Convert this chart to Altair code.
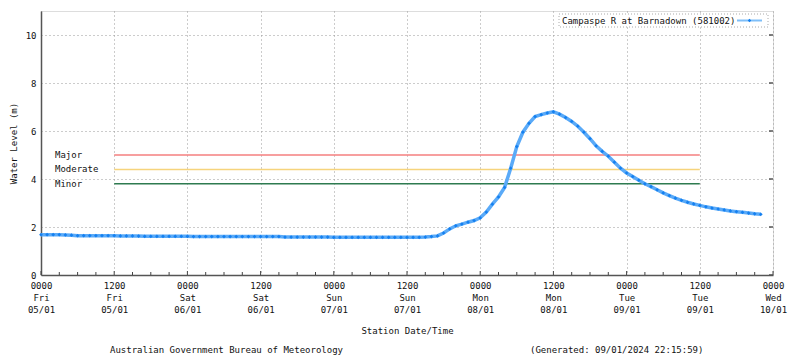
import altair as alt
import pandas as pd

# ---------------- data ----------------
start = pd.Timestamp("2024-01-05T00:00:00")
hours = list(range(0, 119))
level = [
    1.68, 1.68, 1.68, 1.68, 1.67, 1.66, 1.64, 1.64, 1.64, 1.64,   # 0-9
    1.64, 1.64, 1.64, 1.63, 1.63, 1.63, 1.62, 1.61, 1.61, 1.61,   # 10-19
    1.61, 1.61, 1.61, 1.61, 1.61, 1.60, 1.60, 1.60, 1.60, 1.60,   # 20-29
    1.60, 1.60, 1.60, 1.60, 1.60, 1.60, 1.60, 1.60, 1.60, 1.60,   # 30-39
    1.58, 1.58, 1.58, 1.58, 1.58, 1.58, 1.58, 1.58, 1.57, 1.57,   # 40-49
    1.57, 1.57, 1.57, 1.57, 1.57, 1.57, 1.57, 1.57, 1.57, 1.57,   # 50-59
    1.57, 1.57, 1.57, 1.58, 1.60, 1.63, 1.75, 1.92, 2.05, 2.12,   # 60-69
    2.20, 2.27, 2.38, 2.62, 2.95, 3.25, 3.65, 4.45, 5.35, 5.95,   # 70-79
    6.32, 6.60, 6.68, 6.75, 6.80, 6.70, 6.56, 6.40, 6.20, 5.95,   # 80-89
    5.68, 5.38, 5.15, 4.95, 4.70, 4.45, 4.25, 4.10, 3.95, 3.80,   # 90-99
    3.68, 3.55, 3.42, 3.31, 3.20, 3.11, 3.03, 2.96, 2.90, 2.84,   # 100-109
    2.79, 2.75, 2.71, 2.67, 2.64, 2.61, 2.58, 2.55, 2.53,         # 110-118
]

thr_names = ["Major", "Moderate", "Minor"]
thr_values = [5.0, 4.4, 3.8]
thr_colors = ["#f47f7f", "#f6d47c", "#2e7b50"]
thr_start_hour = 12
thr_end_hour = 108

x_tick_hours = list(range(0, 121, 12))
minor_tick_hours = list(range(0, 121, 3))
y_ticks = [0, 2, 4, 6, 8, 10]

series_name = "Campaspe R at Barnadown (581002)"
footer_left = "Australian Government Bureau of Meteorology"
footer_right = "(Generated: 09/01/2024 22:15:59)"


def iso(h):
    return (start + pd.Timedelta(hours=h)).strftime("%Y-%m-%dT%H:%M:%SZ")


def dt(h):
    ts = start + pd.Timedelta(hours=h)
    return alt.DateTime(year=ts.year, month=ts.month, date=ts.day, hours=ts.hour, utc=True)


df = pd.DataFrame({"t": [iso(h) for h in hours], "level": level})
thr_df = pd.DataFrame({
    "name": thr_names, "value": thr_values, "color": thr_colors,
    "t0": [iso(thr_start_hour)] * 3, "t1": [iso(thr_end_hour)] * 3,
})
minor_df = pd.DataFrame({"t": [iso(h) for h in minor_tick_hours if h % 12 != 0]})
major_df = pd.DataFrame({"t": [iso(h) for h in x_tick_hours]})
ytick_df = pd.DataFrame({"v": y_ticks})

W, H = 732, 264
FONT = "DejaVu Sans Mono"

x_scale = alt.Scale(type="utc", domain=[dt(0), dt(120)])
y_scale = alt.Scale(domain=[0, 11])

x_axis = alt.Axis(
    values=[dt(h) for h in x_tick_hours],
    labelExpr="[utcFormat(datum.value, '%H%M'), utcFormat(datum.value, '%a'), utcFormat(datum.value, '%d/%m')]",
    labelLineHeight=12, labelPadding=6, labelFontSize=9, labelFont=FONT,
    labelFlush=False, labelOverlap=False, labelAlign="center",
    ticks=False, grid=True, gridDash=[1, 3], gridColor="#999999",
    domainColor="#555555", domainWidth=1.5,
    title="Station Date/Time", titleFont=FONT, titleFontSize=9,
    titleFontWeight="normal", titlePadding=12, labelColor="#111", titleColor="#111",
)
y_axis = alt.Axis(
    values=y_ticks, labelFontSize=9, labelFont=FONT, labelPadding=5,
    ticks=False, grid=True, gridDash=[1, 3], gridColor="#999999",
    domainColor="#555555", domainWidth=1.5,
    title="Water Level (m)", titleFont=FONT, titleFontSize=9,
    titleFontWeight="normal", titlePadding=7, labelColor="#111", titleColor="#111",
)

base = alt.Chart(df)

grid_layer = base.mark_line(opacity=0).encode(
    x=alt.X("t:T", scale=x_scale, axis=x_axis),
    y=alt.Y("level:Q", scale=y_scale, axis=y_axis),
)

thr_lines = alt.Chart(thr_df).mark_rule(strokeWidth=1.5).encode(
    x=alt.X("t0:T", scale=x_scale), x2="t1:T",
    y=alt.Y("value:Q", scale=y_scale),
    color=alt.Color("color:N", scale=None),
)
thr_text = alt.Chart(thr_df).mark_text(
    align="left", baseline="middle", font=FONT, fontSize=9, color="#111"
).encode(
    x=alt.value(14), y=alt.Y("value:Q", scale=y_scale), text="name:N"
)

series_line = base.mark_line(color="#5aaaf8", strokeWidth=3.5).encode(
    x=alt.X("t:T", scale=x_scale), y=alt.Y("level:Q", scale=y_scale)
)
series_pts = base.mark_point(
    shape="diamond", filled=True, size=14, color="#1580f0", opacity=1
).encode(x=alt.X("t:T", scale=x_scale), y=alt.Y("level:Q", scale=y_scale))

minor_ticks = alt.Chart(minor_df).mark_rule(color="#444", strokeWidth=1).encode(
    x=alt.X("t:T", scale=x_scale), y=alt.value(H), y2=alt.value(H - 3)
)
major_ticks = alt.Chart(major_df).mark_rule(color="#444", strokeWidth=1).encode(
    x=alt.X("t:T", scale=x_scale), y=alt.value(H), y2=alt.value(H - 4)
)
right_ticks = alt.Chart(ytick_df).mark_rule(color="#555", strokeWidth=1.5).encode(
    y=alt.Y("v:Q", scale=y_scale), x=alt.value(W), x2=alt.value(W - 4)
)

leg_df = pd.DataFrame({"label": [series_name]})
leg_box = alt.Chart(leg_df).mark_rect(
    fill="white", stroke="#aaaaaa", strokeDash=[1, 2], strokeWidth=1
).encode(x=alt.value(518), x2=alt.value(727), y=alt.value(3), y2=alt.value(16))
leg_text = alt.Chart(leg_df).mark_text(
    align="left", baseline="middle", font=FONT, fontSize=9, color="#111"
).encode(x=alt.value(521), y=alt.value(9.5), text="label:N")
leg_line = alt.Chart(leg_df).mark_rule(color="#7fbff8", strokeWidth=2).encode(
    x=alt.value(696), x2=alt.value(721), y=alt.value(9.5)
)
leg_pt = alt.Chart(leg_df).mark_point(
    shape="diamond", filled=True, size=12, color="#1580f0", opacity=1
).encode(x=alt.value(708.5), y=alt.value(9.5))

foot_df = pd.DataFrame({"label": [footer_left, footer_right], "px": [69, 489]})
foot = alt.Chart(foot_df).mark_text(
    align="left", baseline="middle", font=FONT, fontSize=9, color="#111"
).encode(x=alt.X("px:Q", scale=None), y=alt.value(339), text="label:N")

chart = alt.layer(
    grid_layer, thr_lines, thr_text, series_line, series_pts,
    minor_ticks, major_ticks, right_ticks,
    leg_box, leg_text, leg_line, leg_pt, foot,
).properties(
    width=W, height=H,
    autosize=alt.AutoSizeParams(type="none"),
    padding={"left": 33, "top": 3, "right": 19, "bottom": 80},
    background="white",
).configure_view(
    stroke="#808080", strokeWidth=2
).configure(font=FONT)

chart.save("out.html", embed_options={"renderer": "svg", "actions": False})
